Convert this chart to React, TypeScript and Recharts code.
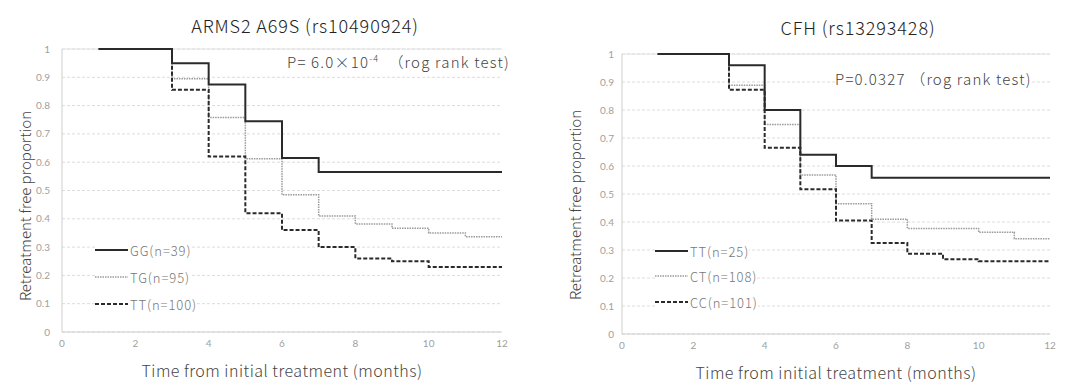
import React from 'react';
import { LineChart, Line, XAxis, YAxis, CartesianGrid, ReferenceLine } from 'recharts';

const months = [1, 3, 4, 5, 6, 7, 8, 9, 10, 11, 12];
const xTicks = [0, 2, 4, 6, 8, 10, 12];
const yTicks = [0, 0.1, 0.2, 0.3, 0.4, 0.5, 0.6, 0.7, 0.8, 0.9, 1];

// ARMS2 A69S (rs10490924)
const armsGG = [1, 0.95, 0.875, 0.745, 0.615, 0.565, 0.565, 0.565, 0.565, 0.565, 0.565];
const armsTG = [1, 0.895, 0.758, 0.612, 0.485, 0.41, 0.382, 0.367, 0.35, 0.337, 0.337];
const armsTT = [1, 0.856, 0.62, 0.42, 0.36, 0.3, 0.26, 0.25, 0.23, 0.23, 0.23];
const armsLabels = ['GG(n=39)', 'TG(n=95)', 'TT(n=100)'];

// CFH (rs13293428)
const cfhTT = [1, 0.96, 0.8, 0.64, 0.6, 0.558, 0.558, 0.558, 0.558, 0.558, 0.558];
const cfhCT = [1, 0.888, 0.748, 0.568, 0.465, 0.41, 0.377, 0.377, 0.363, 0.34, 0.34];
const cfhCC = [1, 0.872, 0.665, 0.517, 0.405, 0.325, 0.287, 0.267, 0.26, 0.26, 0.26];
const cfhLabels = ['TT(n=25)', 'CT(n=108)', 'CC(n=101)'];

const JP = '"Noto Sans CJK JP", "Noto Sans", sans-serif';
const TICK = { fontSize: 10, fill: '#a0a0a0', fontFamily: 'Lato, sans-serif' };

const STYLES = [
  { stroke: '#2a2a2a', width: 2, dash: undefined },
  { stroke: '#9a9a9a', width: 1.5, dash: '1.5 1' },
  { stroke: '#2a2a2a', width: 2, dash: '4 2' },
];

type Cfg = {
  left: number;
  width: number;
  margin: { top: number; right: number; bottom: number; left: number };
  tickMargin: number;
  series: number[][];
  labels: string[];
  title: string;
  titleX: number;
  titleY: number;
  yLabelX: number;
  yLabelY: number;
  xLabelX: number;
  xLabelY: number;
  legendX: number;
  legendY: number[];
  pText: React.ReactNode;
  pX: number;
  pY: number;
};

function KMChart({ cfg }: { cfg: Cfg }) {
  const data = months.map((t, i) => ({
    t,
    a: cfg.series[0][i],
    b: cfg.series[1][i],
    c: cfg.series[2][i],
  }));
  const keys = ['a', 'b', 'c'];
  return (
    <div style={{ position: 'absolute', left: cfg.left, top: 0, width: cfg.width, height: 383 }}>
      <LineChart width={cfg.width} height={383} data={data} margin={cfg.margin}>
        <CartesianGrid vertical={false} stroke="#dcdcdc" strokeDasharray="3 2" />
        <ReferenceLine y={1} stroke="#e2e2e2" />
        <XAxis
          dataKey="t"
          type="number"
          domain={[0, 12]}
          ticks={xTicks}
          height={25}
          tickLine={false}
          axisLine={{ stroke: '#cfcfcf' }}
          tick={TICK}
          interval={0}
        />
        <YAxis
          type="number"
          domain={[0, 1]}
          ticks={yTicks}
          width={30}
          tickLine={false}
          tickMargin={cfg.tickMargin}
          axisLine={{ stroke: '#cfcfcf' }}
          tick={TICK}
          interval={0}
          tickFormatter={(v: number) => (v === 0 || v === 1 ? String(v) : v.toFixed(1))}
        />
        {[1, 2, 0].map((k) => (
          <Line
            key={k}
            type="stepAfter"
            dataKey={keys[k]}
            stroke={STYLES[k].stroke}
            strokeWidth={STYLES[k].width}
            strokeDasharray={STYLES[k].dash}
            dot={false}
            activeDot={false}
            isAnimationActive={false}
          />
        ))}
      </LineChart>
      <div
        style={{
          position: 'absolute', left: cfg.titleX - 200, top: cfg.titleY - 12, width: 400,
          textAlign: 'center', fontFamily: JP, fontSize: 18, fontWeight: 300, letterSpacing: 0.9,
          color: '#222', lineHeight: '24px',
        }}
      >
        {cfg.title}
      </div>
      <div
        style={{
          position: 'absolute', left: cfg.yLabelX - 150, top: cfg.yLabelY - 11, width: 300,
          textAlign: 'center', fontFamily: JP, fontSize: 15, fontWeight: 300, color: '#444',
          lineHeight: '22px', transform: 'rotate(-90deg)',
        }}
      >
        Retreatment free proportion
      </div>
      <div
        style={{
          position: 'absolute', left: cfg.xLabelX - 200, top: cfg.xLabelY - 11, width: 400,
          textAlign: 'center', fontFamily: JP, fontSize: 16, fontWeight: 300, letterSpacing: 0.5,
          color: '#444', lineHeight: '22px',
        }}
      >
        Time from initial treatment (months)
      </div>
      <div
        style={{
          position: 'absolute', left: cfg.pX, top: cfg.pY - 10, whiteSpace: 'nowrap',
          fontFamily: JP, fontSize: 15, fontWeight: 300, letterSpacing: 1.2, color: '#444',
          lineHeight: '20px', background: 'white',
        }}
      >
        {cfg.pText}
      </div>
      {cfg.labels.map((lab, i) => (
        <div
          key={lab}
          style={{
            position: 'absolute', left: cfg.legendX, top: cfg.legendY[i] - 9, height: 18,
            display: 'flex', alignItems: 'center', whiteSpace: 'nowrap',
            fontFamily: JP, fontSize: 13, fontWeight: 300, letterSpacing: 0.9, color: '#777',
            background: 'white',
          }}
        >
          <svg width={33} height={6} style={{ marginRight: 2 }}>
            <line
              x1={0} y1={3} x2={33} y2={3}
              stroke={STYLES[i].stroke}
              strokeWidth={STYLES[i].width}
              strokeDasharray={STYLES[i].dash}
            />
          </svg>
          {lab}
        </div>
      ))}
    </div>
  );
}

const armsCfg: Cfg = {
  left: 0,
  width: 532,
  margin: { top: 49, right: 30, bottom: 26, left: 32 },
  tickMargin: 6,
  series: [armsGG, armsTG, armsTT],
  labels: armsLabels,
  title: 'ARMS2 A69S (rs10490924)',
  titleX: 305,
  titleY: 25,
  yLabelX: 25,
  yLabelY: 206,
  xLabelX: 282,
  xLabelY: 370,
  legendX: 95,
  legendY: [250, 277, 304],
  pText: (
    <span>
      P= 6.0×10<sup style={{ fontSize: 9, verticalAlign: 'super', lineHeight: 0 }}>-4</sup>
      {'\u00a0\u00a0（rog rank test)'}
    </span>
  ),
  pX: 287,
  pY: 62,
};

const cfhCfg: Cfg = {
  left: 533,
  width: 532,
  margin: { top: 54, right: 15, bottom: 24, left: 59 },
  tickMargin: 2,
  series: [cfhTT, cfhCT, cfhCC],
  labels: cfhLabels,
  title: 'CFH (rs13293428)',
  titleX: 325,
  titleY: 27,
  yLabelX: 42,
  yLabelY: 205,
  xLabelX: 303,
  xLabelY: 372,
  legendX: 122,
  legendY: [251, 276, 302],
  pText: <span>{'P=0.0327\u00a0（rog rank test)'}</span>,
  pX: 302,
  pY: 79,
};

export default function App() {
  return (
    <div style={{ position: 'absolute', left: 0, top: 0, width: 1065, height: 383, background: 'white' }}>
      <KMChart cfg={armsCfg} />
      <KMChart cfg={cfhCfg} />
    </div>
  );
}
